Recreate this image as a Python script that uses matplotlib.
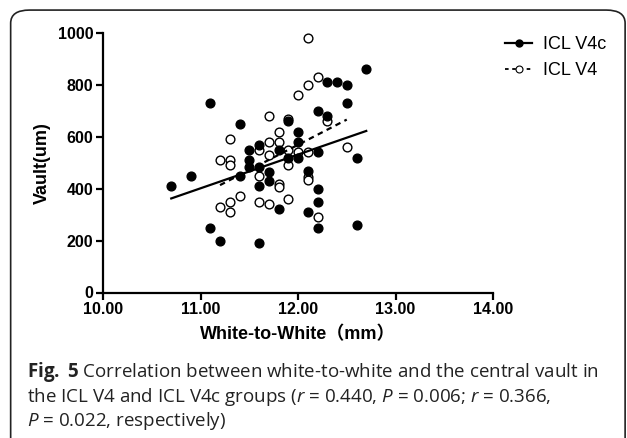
import numpy as np
import matplotlib
matplotlib.use('Agg')
import matplotlib.pyplot as plt
from matplotlib.patches import FancyBboxPatch

# ICL V4c group (filled circles)
v4c_wtw = [10.7, 10.9, 11.1, 11.1, 11.2, 11.4, 11.4, 11.5, 11.5, 11.5,
           11.6, 11.6, 11.6, 11.6, 11.7, 11.7, 11.8, 11.8, 11.9, 11.9,
           12.0, 12.0, 12.0, 12.1, 12.1, 12.2, 12.2, 12.2, 12.2, 12.2,
           12.3, 12.3, 12.4, 12.5, 12.5, 12.6, 12.6, 12.7]
v4c_vault = [410, 450, 730, 250, 200, 650, 450, 550, 510, 485,
             570, 485, 410, 190, 465, 430, 550, 320, 660, 520,
             620, 580, 520, 470, 310, 700, 540, 400, 350, 250,
             810, 680, 810, 800, 730, 520, 260, 860]

# ICL V4 group (open circles)
v4_wtw = [11.2, 11.3, 11.3, 11.3, 11.2, 11.3, 11.3, 11.4, 11.6, 11.6,
          11.6, 11.7, 11.7, 11.7, 11.7, 11.8, 11.8, 11.8, 11.8, 11.9,
          11.9, 11.9, 11.9, 12.0, 12.0, 12.1, 12.1, 12.1, 12.1, 12.1,
          12.2, 12.2, 12.3, 12.5]
v4_vault = [510, 510, 490, 590, 330, 350, 310, 370, 550, 450,
            350, 680, 580, 530, 340, 620, 580, 420, 405, 670,
            550, 490, 360, 760, 540, 980, 800, 540, 445, 435,
            830, 290, 660, 560]

xticks = [10.0, 11.0, 12.0, 13.0, 14.0]
yticks = [0, 200, 400, 600, 800, 1000]


def fit_line(x, y):
    k, b = np.polyfit(x, y, 1)
    xs = np.array([min(x), max(x)])
    return xs, k * xs + b


def main():
    plt.rcParams['mathtext.fontset'] = 'custom'
    plt.rcParams['mathtext.rm'] = 'Open Sans'
    plt.rcParams['mathtext.it'] = 'Open Sans:italic'
    plt.rcParams['mathtext.bf'] = 'Open Sans:bold'

    fig = plt.figure(figsize=(6.27, 4.38), dpi=100)

    # rounded frame around figure
    frame = FancyBboxPatch((0.017, -0.05), 0.98, 1.027,
                           boxstyle='round,pad=0,rounding_size=0.03',
                           transform=fig.transFigure, fill=False,
                           edgecolor='#222222', linewidth=1.2)
    fig.patches.append(frame)

    ax = fig.add_axes([103 / 627, 1 - 292.5 / 438, 390 / 627, 259.5 / 438])
    ax.set_xlim(10, 14)
    ax.set_ylim(0, 1000)
    for s in ['top', 'right']:
        ax.spines[s].set_visible(False)
    for s in ['left', 'bottom']:
        ax.spines[s].set_linewidth(1.6)
    ax.tick_params(axis='both', direction='out', length=5, width=1.6, pad=2)
    ax.set_xticks(xticks)
    ax.set_xticklabels(['%.2f' % t for t in xticks])
    ax.set_yticks(yticks)
    for lab in ax.get_xticklabels() + ax.get_yticklabels():
        lab.set_fontfamily('Liberation Sans')
        lab.set_fontweight('bold')
        lab.set_fontsize(11.5)

    # scatter points
    ax.plot(v4_wtw, v4_vault, linestyle='none', marker='o', ms=6.3,
            mfc='white', mec='black', mew=1.0, zorder=3)
    ax.plot(v4c_wtw, v4c_vault, linestyle='none', marker='o', ms=6.3,
            mfc='black', mec='black', zorder=4)

    # regression lines
    fx, fy = fit_line(v4c_wtw, v4c_vault)
    ax.plot(fx, fy, color='black', lw=1.6, zorder=5)
    gx, gy = fit_line(v4_wtw, v4_vault)
    ax.plot(gx, gy, color='black', lw=1.6, linestyle=(0, (2.5, 2)), zorder=5)

    # legend handles
    h1, = ax.plot([], [], color='black', lw=1.6, marker='o', ms=5,
                  mfc='black', mec='black')
    h2, = ax.plot([], [], color='black', lw=1.3, linestyle=(0, (2, 2)),
                  marker='o', ms=5, mfc='white', mec='black', mew=0.8)
    fig.legend([h1, h2], ['ICL V4c', 'ICL V4'], loc='upper left',
               bbox_to_anchor=(489 / 627, 1 - 20 / 438), frameon=False,
               prop={'family': 'Liberation Sans', 'size': 13},
               handlelength=1.5, handletextpad=0.6, labelspacing=0.5)

    ax.set_ylabel('Vault(um)', fontfamily='Liberation Sans',
                  fontweight='bold', fontsize=13, labelpad=5)
    ax.set_xlabel('White-to-White（mm）',
                  fontfamily=['Liberation Sans', 'Noto Sans CJK SC'],
                  fontweight='bold', fontsize=13, labelpad=6)

    # caption
    cap = dict(fontfamily='Open Sans', fontsize=13.5, color='#222222',
               va='baseline', ha='left')
    fig.text(27 / 627, 1 - 377 / 438,
             r'$\mathbf{Fig.}$ $\mathbf{5}$ Correlation between white-to-white and the central vault in',
             **cap)
    fig.text(27 / 627, 1 - 402 / 438,
             r'the ICL V4 and ICL V4c groups ($r$ = 0.440, $P$ = 0.006; $r$ = 0.366,',
             **cap)
    fig.text(27 / 627, 1 - 426 / 438,
             r'$P$ = 0.022, respectively)', **cap)

    fig.savefig('out.png', dpi=100)


if __name__ == "__main__":
    main()
